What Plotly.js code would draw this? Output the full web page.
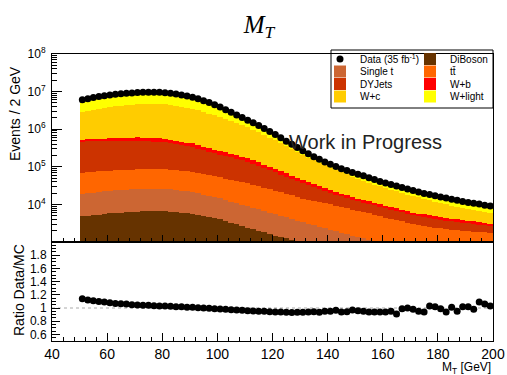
<!DOCTYPE html>
<html>
<head>
<meta charset="utf-8">
<script src="https://cdn.plot.ly/plotly-3.0.1.min.js"></script>
<style>html,body{margin:0;padding:0;background:#fff;}#chart{width:507px;height:375px;}</style>
</head>
<body>
<div id="chart"></div>
<script>
// Bin centres (2 GeV bins from 50 to 200)
const binCenters = [51,53,55,57,59,61,63,65,67,69,71,73,75,77,79,81,83,85,87,89,91,93,95,97,99,
  101,103,105,107,109,111,113,115,117,119,121,123,125,127,129,131,133,135,137,139,141,143,145,147,149,
  151,153,155,157,159,161,163,165,167,169,171,173,175,177,179,181,183,185,187,189,191,193,195,197,199];

const diboson = [4790,4970,5150,5350,5550, 5750,5890,6020,6160,6310, 6460,6490,6520,6550,6580,
  6610,6400,6200,6000,5810, 5620,5250,4900,4570,4270, 3980,3600,3250,2940,2650,
  2400,2180,1980,1790,1630, 1480,1360,1240,1140,1040, 955,880,810,745,685,
  631,581,535,492,453, 417,386,357,330,305, 282,263,246,229,214,
  200,186,174,162,151, 141,132,123,115,107, 100,94,89,84,79];

const singleTop = [14300,14800,15400,15900,16500, 17200,17550,17960,18380,18810, 19250,19340,19430,19520,19610,
  19700,18840,18020,17230,16480, 15760,14520,13380,12330,11360, 10470,9530,8660,7880,7170,
  6510,5910,5370,4870,4420, 4020,3630,3290,2970,2690, 2430,2200,1980,1790,1620,
  1460,1330,1220,1115,1020, 932,856,786,722,663, 609,568,530,495,462,
  431,402,376,351,328, 306,289,273,258,244, 231,224,216,210,203];

const ttbar = [50100,51300,52600,53900,55200, 56500,57100,57700,58200,58800, 59400,59700,60000,60200,60500,
  60800,58700,56700,54800,52900, 51100,48100,45400,42800,40300, 38000,35600,33400,31200,29300,
  27400,25200,23100,21200,19500, 17900,16200,14600,13200,11900, 10700,10100,9500,8940,8410,
  7910,7330,6800,6300,5840, 5410,4980,4590,4220,3890, 3580,3300,3040,2810,2590,
  2390,2270,2150,2045,1940, 1840,1790,1730,1680,1625, 1575,1555,1535,1515,1500];

const dyJets = [398600,401000,403300,405700,408000, 410300,409200,408000,406900,405800, 404700,395200,386000,377000,368200,
  359600,336700,315200,295200,276400, 258700,234000,211600,191400,173100, 156400,145500,133800,121800,109600,
  97500,85800,74700,64200,55200, 47500,40800,35100,30200,26000, 22400,19000,16000,13600,11700,
  9950,8760,7710,6790,5980, 5260,4840,4460,4100,3780, 3480,3150,2850,2580,2330,
  2110,2000,1890,1790,1690, 1600,1520,1450,1380,1320, 1260,1140,1030,940,850];

const wPlusB = [57100,61900,67100,72800,79000, 85700,90500,95600,101000,106700, 112800,113300,113900,114500,115100,
  115700,108900,102600,96600,91000, 85700,78200,71300,65000,59300, 54100,48900,44100,39900,36000,
  32500,29200,26000,23000,20300, 17800,15400,13200,11200,9500, 8000,6800,5800,5000,4400,
  3900,3540,3110,2730,2390, 2100,1940,1780,1640,1510, 1390,1270,1170,1070,980,
  897,849,803,760,720, 681,653,627,601,577, 553,528,504,482,460];

const wPlusC = [2430000,2600000,2780000,2970000,3180000, 3410000,3510000,3620000,3730000,3850000, 3970000,3980000,3990000,3990000,4000000,
  4010000,3820000,3630000,3460000,3290000, 3130000,2830000,2550000,2300000,2080000, 1870000,1645000,1443000,1266000,1111000,
  974000,825000,698500,591400,500500, 423700,349400,288100,237600,195900, 161500,136400,115200,97300,82200,
  69300,60000,51900,45000,38900, 33700,29600,26000,22800,20000, 17600,15900,14300,12950,11700,
  10570,9560,8650,7820,7070, 6390,5730,5140,4600,4120, 3700,3490,3300,3110,2940];

const wPlusLight = [2300000,2510000,2750000,3010000,3290000, 3600000,3760000,3930000,4100000,4280000, 4470000,4470000,4470000,4480000,4480000,
  4490000,4260000,4050000,3840000,3650000, 3470000,3050000,2680000,2350000,2070000, 1820000,1484000,1213000,992000,811000,
  663000,549000,455000,377000,312000, 258000,206000,164000,131000,105000, 83600,68200,55700,45500,37100,
  30300,27200,24500,22100,19900, 17900,16700,15600,14500,13500, 12600,11300,10200,9120,8180,
  7340,6800,6310,5850,5430, 5030,4690,4380,4080,3810, 3550,3350,3170,2990,2830];

const dataCounts = [6030000,6460000,6920000,7410000,7760000, 8130000,8510000,8710000,9020000,9230000, 9440000,9550000,9660000,9660000,9550000,
  9330000,9020000,8610000,8130000,7590000, 7080000,6460000,5750000,5130000,4470000, 3890000,3310000,2820000,2400000,2040000,
  1740000,1480000,1260000,1050000,871000, 724000,589000,479000,398000,324000, 269000,224000,186000,158000,135000,
  117000,102000,89100,79400,70800, 63100,57500,51300,45700,40700, 37200,33900,30900,28200,25700,
  23400,21400,19500,18200,17000, 15800,14800,13800,12900,12000, 11200,10700,10200,9550,9120];

const ratioDataMC = [1.14,1.12,1.11,1.10,1.09, 1.08,1.07,1.065,1.06,1.05, 1.045,1.04,1.04,1.035,1.03,
  1.03,1.025,1.02,1.02,1.01, 1.01,1.005,1.0,0.995,0.99, 0.985,0.98,0.975,0.97,0.965,
  0.96,0.955,0.95,0.95,0.945, 0.94,0.94,0.935,0.93,0.935, 0.935,0.94,0.945,0.935,0.95,
  0.95,0.965,0.94,0.945,0.97, 0.96,0.95,0.94,0.94,0.94, 0.94,0.95,0.91,0.99,1.0,
  0.98,0.95,0.94,1.03,1.02, 0.99,0.94,1.01,0.95,1.02, 1.02,0.98,1.09,1.06,1.03];

const topTickVals = [1e4,1e5,1e6,1e7,1e8];
const topTickText = ['10<sup>4</sup>','10<sup>5</sup>','10<sup>6</sup>','10<sup>7</sup>','10<sup>8</sup>'];
const ratioTickVals = [0.6,0.8,1,1.2,1.4,1.6,1.8];
const ratioTickText = ['0.6','0.8','1','1.2','1.4','1.6','1.8'];
const xTickVals = [40,60,80,100,120,140,160,180,200];

// minor ticks for the log axis (2..9 x each decade)
const logMinor = [];
for (let d = 3; d < 8; d++) for (let m = 2; m <= 9; m++) logMinor.push(m * Math.pow(10, d));

const W = 507, H = 375;
const px = v => v / W;
const py = v => 1 - v / H;

// legend rows (two entries per row, like the reference's 2-column box)
const stackDefs = [
  {name:'DiBoson', y: diboson, color:'#663300', legend:'legend', rank:2},
  {name:'Single t', y: singleTop, color:'#CC6633', legend:'legend2', rank:1},
  {name:'tt\u0304', y: ttbar, color:'#FF6600', legend:'legend2', rank:2},
  {name:'DYJets', y: dyJets, color:'#CC3300', legend:'legend3', rank:1},
  {name:'W+b', y: wPlusB, color:'#FF0000', legend:'legend3', rank:2},
  {name:'W+c', y: wPlusC, color:'#FFCC00', legend:'legend4', rank:1},
  {name:'W+light', y: wPlusLight, color:'#FFFF00', legend:'legend4', rank:2}
];

const traces = stackDefs.map(s => ({
  type:'bar', x: binCenters, y: s.y, width: 2, name: s.name,
  marker:{color: s.color, line:{width:0}}, xaxis:'x', yaxis:'y',
  legend: s.legend, legendrank: s.rank, hoverinfo:'skip'
}));

traces.push({
  type:'scatter', mode:'markers', x: binCenters, y: dataCounts,
  name:'Data (35 fb<sup>-1</sup>)', marker:{color:'#000', size:7},
  xaxis:'x', yaxis:'y', legend:'legend', legendrank:1
});

traces.push({
  type:'scatter', mode:'markers', x: binCenters, y: ratioDataMC,
  marker:{color:'#000', size:7}, xaxis:'x2', yaxis:'y2', showlegend:false
});

const fontFam = 'Liberation Sans, Arial, Helvetica, sans-serif';
const axisCommon = {showline:true, mirror:true, linecolor:'#000', linewidth:1, showgrid:false, zeroline:false};

function legendRow(yPix) {
  return {orientation:'h', x: px(320), y: py(yPix), xanchor:'left', yanchor:'middle',
    bgcolor:'rgba(0,0,0,0)', borderwidth:0, entrywidth:45, entrywidthmode:'pixels',
    font:{size:10, family: fontFam}, traceorder:'normal'};
}

const layout = {
  width: W, height: H,
  margin:{l:0,r:0,t:0,b:0},
  paper_bgcolor:'#fff', plot_bgcolor:'#fff',
  font:{family: fontFam, color:'#000'},
  title:{text:'<i>M</i><sub><i>T</i></sub>', font:{family:'Liberation Serif, DejaVu Serif, serif', size:25, color:'#000'},
    x: px(259), xanchor:'center', y: py(24), yanchor:'middle'},
  barmode:'stack', bargap:0,
  showlegend:true,
  legend: legendRow(59),
  legend2: legendRow(71.5),
  legend3: legendRow(84),
  legend4: legendRow(96.5),
  xaxis: Object.assign({}, axisCommon, {
    domain:[px(52), px(493)], anchor:'y', range:[40,200], showticklabels:false,
    ticks:'inside', ticklen:7, tickvals: xTickVals, tickcolor:'#000',
    minor:{ticks:'inside', ticklen:4, dtick:4, tick0:40, tickcolor:'#000'}
  }),
  yaxis: Object.assign({}, axisCommon, {
    domain:[py(242), py(54)], anchor:'x', type:'log', range:[3,8],
    tickmode:'array', tickvals: topTickVals, ticktext: topTickText,
    ticks:'inside', ticklen:10, tickcolor:'#000', tickfont:{size:12},
    ticklabelstandoff:3,
    minor:{ticks:'inside', ticklen:5, tickmode:'array', tickvals: logMinor, tickcolor:'#000'}
  }),
  xaxis2: Object.assign({}, axisCommon, {
    domain:[px(52), px(493)], anchor:'y2', range:[40,200],
    tickmode:'array', tickvals: xTickVals, ticks:'inside', ticklen:8, tickcolor:'#000',
    tickfont:{size:14}, ticklabelstandoff:0,
    minor:{ticks:'inside', ticklen:4, dtick:4, tick0:40, tickcolor:'#000'}
  }),
  yaxis2: Object.assign({}, axisCommon, {
    domain:[py(341), py(242)], anchor:'x2', range:[0.5,2.0],
    tickmode:'array', tickvals: ratioTickVals, ticktext: ratioTickText,
    ticks:'inside', ticklen:8, tickcolor:'#000', tickfont:{size:12}, ticklabelstandoff:2,
    minor:{ticks:'inside', ticklen:4, dtick:0.05, tick0:0.5, tickcolor:'#000'}
  }),
  shapes:[
    {type:'rect', xref:'paper', yref:'paper', x0: px(331), x1: px(493), y0: py(108), y1: py(50),
      line:{color:'#000', width:1}, fillcolor:'#fff', layer:'below'},
    {type:'line', xref:'x2 domain', yref:'y2', x0:0, x1:1, y0:1, y1:1,
      line:{color:'#aaa', width:1, dash:'3px,3px'}, layer:'below'}
  ],
  annotations:[
    {text:'Work in Progress', xref:'paper', yref:'paper', x: px(365), y: py(142), xanchor:'center', yanchor:'middle',
      showarrow:false, font:{size:20, color:'#222', family: fontFam}},
    {text:'Events / 2 GeV', xref:'paper', yref:'paper', x: px(15), y: py(114), xanchor:'center', yanchor:'middle',
      textangle:-90, showarrow:false, font:{size:14, family: fontFam}},
    {text:'Ratio Data/MC', xref:'paper', yref:'paper', x: px(19), y: py(290), xanchor:'center', yanchor:'middle',
      textangle:-90, showarrow:false, font:{size:14, family: fontFam}},
    {text:'M<sub>T</sub> [GeV]', xref:'paper', yref:'paper', x: px(493), y: py(367.8), xanchor:'right', yanchor:'middle',
      showarrow:false, font:{size:12, family: fontFam}}
  ],
  hovermode:false
};

Plotly.newPlot('chart', traces, layout, {staticPlot:true, displayModeBar:false});
</script>
</body>
</html>
